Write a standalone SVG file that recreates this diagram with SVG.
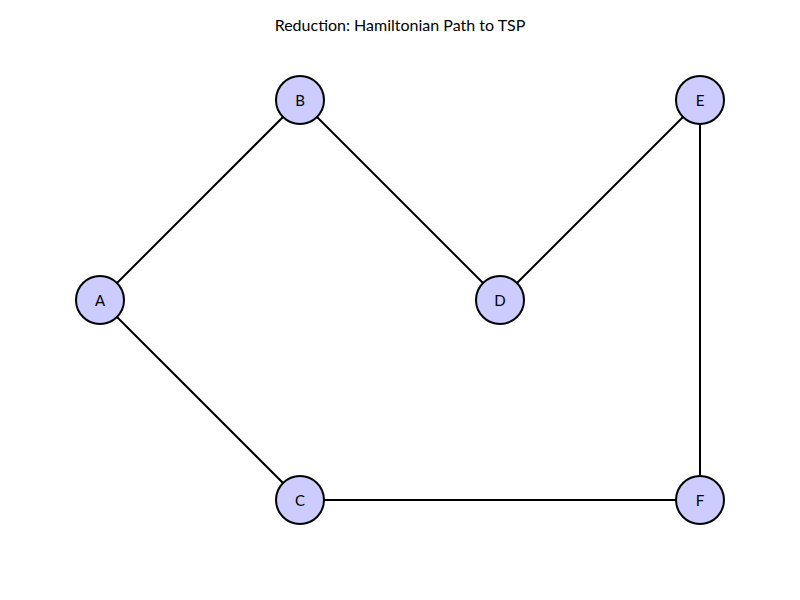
<svg xmlns="http://www.w3.org/2000/svg" width="800" height="600" viewBox="0 0 800 600">
<style>
.edge{stroke:#000;stroke-width:2;fill:none}
.node circle{fill:#ccccff;stroke:#000;stroke-width:2}
.node text{font-family:Lato,"Liberation Sans",sans-serif;font-size:15px;fill:#000;text-anchor:middle;dominant-baseline:central}
.title{font-family:Lato,"Liberation Sans",sans-serif;font-size:16px;fill:#000;text-anchor:middle}
</style>
<rect width="800" height="600" fill="#fff"/>
<text class="title" x="400" y="31">Reduction: Hamiltonian Path to TSP</text>
<g id="edges">
<line class="edge" x1="100" y1="300" x2="300" y2="100"/>
<line class="edge" x1="100" y1="300" x2="300" y2="500"/>
<line class="edge" x1="300" y1="100" x2="500" y2="300"/>
<line class="edge" x1="500" y1="300" x2="700" y2="100"/>
<line class="edge" x1="700" y1="100" x2="700" y2="500"/>
<line class="edge" x1="300" y1="500" x2="700" y2="500"/>
</g>
<g id="A" class="node"><circle cx="100" cy="300" r="24"/><text x="100" y="300">A</text></g>
<g id="B" class="node"><circle cx="300" cy="100" r="24"/><text x="300" y="100">B</text></g>
<g id="C" class="node"><circle cx="300" cy="500" r="24"/><text x="300" y="500">C</text></g>
<g id="D" class="node"><circle cx="500" cy="300" r="24"/><text x="500" y="300">D</text></g>
<g id="E" class="node"><circle cx="700" cy="100" r="24"/><text x="700" y="100">E</text></g>
<g id="F" class="node"><circle cx="700" cy="500" r="24"/><text x="700" y="500">F</text></g>
</svg>
